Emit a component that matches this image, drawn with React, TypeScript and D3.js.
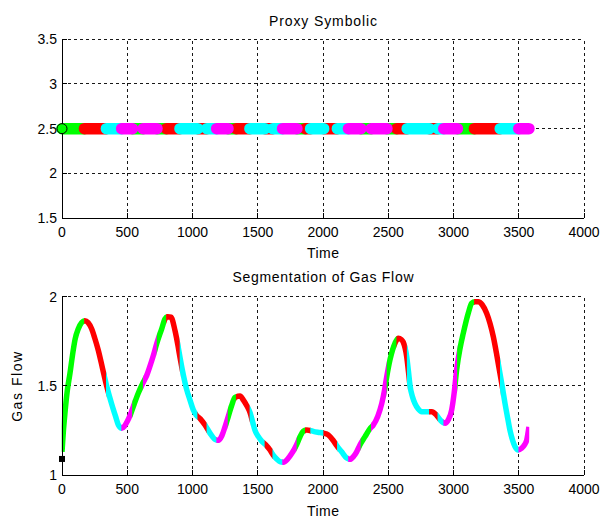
import React from 'react';
import * as d3 from 'd3';

// ---- data ----
const timeData = [0, 10, 23, 40, 61, 80, 100, 125, 151, 175, 200, 227, 250, 278, 310, 342, 380, 410, 432, 457, 480, 500, 525, 547, 585, 623, 650, 674, 700, 725, 764, 789, 810, 835, 866, 890, 904, 930, 955, 981, 1006, 1030, 1060, 1096, 1134, 1172, 1198, 1225, 1249, 1275, 1300, 1326, 1364, 1390, 1415, 1441, 1460, 1479, 1505, 1530, 1560, 1594, 1620, 1645, 1670, 1696, 1730, 1760, 1798, 1824, 1849, 1875, 1900, 1926, 1960, 2003, 2040, 2077, 2105, 2143, 2182, 2207, 2235, 2258, 2284, 2322, 2360, 2385, 2420, 2450, 2470, 2488, 2513, 2552, 2577, 2600, 2615, 2641, 2655, 2667, 2685, 2705, 2730, 2756, 2807, 2833, 2871, 2897, 2935, 2960, 2986, 3005, 3024, 3050, 3075, 3113, 3139, 3165, 3190, 3220, 3254, 3280, 3305, 3330, 3356, 3375, 3395, 3415, 3433, 3455, 3471, 3496, 3522, 3545, 3561, 3578];
const flowData = [1.13, 1.24, 1.35, 1.47, 1.57, 1.67, 1.76, 1.82, 1.855, 1.865, 1.855, 1.82, 1.77, 1.70, 1.60, 1.50, 1.40, 1.33, 1.28, 1.262, 1.275, 1.30, 1.34, 1.385, 1.46, 1.52, 1.56, 1.61, 1.67, 1.735, 1.82, 1.875, 1.888, 1.885, 1.81, 1.72, 1.66, 1.56, 1.48, 1.42, 1.365, 1.335, 1.315, 1.28, 1.235, 1.20, 1.195, 1.22, 1.27, 1.33, 1.39, 1.435, 1.443, 1.42, 1.39, 1.35, 1.30, 1.25, 1.215, 1.19, 1.17, 1.14, 1.11, 1.09, 1.075, 1.072, 1.09, 1.12, 1.17, 1.215, 1.245, 1.252, 1.25, 1.245, 1.24, 1.235, 1.225, 1.195, 1.165, 1.13, 1.095, 1.088, 1.105, 1.13, 1.17, 1.215, 1.26, 1.28, 1.33, 1.40, 1.47, 1.55, 1.645, 1.74, 1.767, 1.76, 1.745, 1.665, 1.58, 1.50, 1.44, 1.40, 1.37, 1.355, 1.355, 1.355, 1.335, 1.31, 1.29, 1.31, 1.365, 1.46, 1.59, 1.71, 1.795, 1.907, 1.963, 1.972, 1.972, 1.955, 1.907, 1.85, 1.776, 1.68, 1.57, 1.49, 1.40, 1.32, 1.25, 1.19, 1.16, 1.14, 1.15, 1.17, 1.196, 1.27];

const segBounds = [0, 172, 340, 457, 540, 622, 728, 800, 904, 1040, 1110, 1185, 1272, 1335, 1440, 1555, 1615, 1690, 1800, 1865, 1905, 2005, 2110, 2195, 2290, 2370, 2490, 2565, 2645, 2815, 2880, 2925, 3030, 3160, 3358, 3500, 3578];
const segColors = ['g', 'r', 'c', 'm', 'g', 'm', 'g', 'r', 'c', 'r', 'c', 'm', 'g', 'r', 'c', 'r', 'c', 'm', 'g', 'r', 'c', 'r', 'c', 'm', 'g', 'm', 'g', 'r', 'c', 'r', 'c', 'm', 'g', 'r', 'c', 'm'];

const xTicks = [0, 500, 1000, 1500, 2000, 2500, 3000, 3500, 4000];
const topYTicks = [1.5, 2, 2.5, 3, 3.5];
const botYTicks = [1, 1.5, 2];
const proxyLevel = 2.5;
const startFlow = 1.09;

const topTitle = 'Proxy Symbolic';
const botTitle = 'Segmentation of Gas Flow';
const xLabel = 'Time';
const botYLabel = 'Gas Flow';

const colorMap: Record<string, string> = { g: '#00ff00', r: '#ff0000', c: '#00ffff', m: '#ff00ff' };
const drawOrder = ['g', 'r', 'c', 'm'];

const FONT = "'Liberation Sans', Arial, Helvetica, sans-serif";

export default function App() {
  const W = 600, H = 519;
  const x = d3.scaleLinear().domain([0, 4000]).range([62, 584]);
  const yTop = d3.scaleLinear().domain([1.5, 3.5]).range([218, 39.3]);
  const yBot = d3.scaleLinear().domain([1, 2]).range([475, 296.7]);

  const pts = timeData.map((t, i) => [t, flowData[i]] as [number, number]);
  const line = d3.line<[number, number]>().x(d => x(d[0])).y(d => yBot(d[1])).curve(d3.curveMonotoneX);
  const fullPath = line(pts) || '';

  const segs = segColors.map((c, i) => ({ c, a: segBounds[i], b: segBounds[i + 1], i }));

  const axesFrame = (y: d3.ScaleLinear<number, number>, yTicks: number[], key: string) => {
    const [y0, y1] = y.range();
    return (
      <g key={key}>
        {xTicks.filter(t => t > 0).map(t => (
          <line key={'gx' + t} x1={x(t)} x2={x(t)} y1={y0} y2={y1} stroke="#000" strokeWidth={1} strokeDasharray="3,3" shapeRendering="crispEdges" opacity={0.9} />
        ))}
        {yTicks.slice(1).map(v => (
          <line key={'gy' + v} x1={x(0)} x2={x(4000)} y1={y(v)} y2={y(v)} stroke="#000" strokeWidth={1} strokeDasharray="3,3" shapeRendering="crispEdges" opacity={0.9} />
        ))}
      </g>
    );
  };

  const axesLines = (y: d3.ScaleLinear<number, number>, yTicks: number[], key: string) => {
    const [y0, y1] = y.range();
    return (
      <g key={key}>
        <line x1={x(0)} x2={x(0)} y1={y0} y2={y1} stroke="#000" strokeWidth={1} shapeRendering="crispEdges" />
        <line x1={x(0)} x2={x(4000)} y1={y0} y2={y0} stroke="#000" strokeWidth={1} shapeRendering="crispEdges" />
        {xTicks.map(t => (
          <line key={'tx' + t} x1={x(t)} x2={x(t)} y1={y0} y2={y0 - 5} stroke="#000" strokeWidth={1} shapeRendering="crispEdges" />
        ))}
        {yTicks.map(v => (
          <line key={'ty' + v} x1={x(0)} x2={x(0) + 5} y1={y(v)} y2={y(v)} stroke="#000" strokeWidth={1} shapeRendering="crispEdges" />
        ))}
        {xTicks.map(t => (
          <text key={'lx' + t} x={x(t)} y={y0 + 19} textAnchor="middle" fontSize={14} fontFamily={FONT} fill="#000">{String(t)}</text>
        ))}
        {yTicks.map(v => (
          <text key={'ly' + v} x={x(0) - 5} y={y(v) + 5} textAnchor="end" fontSize={14} fontFamily={FONT} fill="#000">{String(v)}</text>
        ))}
      </g>
    );
  };

  const cx = (x(0) + x(4000)) / 2;

  return (
    <svg width={W} height={H} viewBox={`0 0 ${W} ${H}`} style={{ position: 'absolute', left: 0, top: 0, background: '#fff' }}>
      <rect x={0} y={0} width={W} height={H} fill="#fff" />
      <defs>
        {segs.map(s => (
          <clipPath key={'cp' + s.i} id={'seg' + s.i}>
            <rect x={x(s.a) - 0.3} y={280} width={x(s.b) - x(s.a) + 0.6} height={210} />
          </clipPath>
        ))}
      </defs>

      {/* ---- top axes ---- */}
      {axesFrame(yTop, topYTicks, 'topgrid')}
      {drawOrder.map(c => (
        <g key={'top' + c}>
          {segs.filter(s => s.c === c).map(s => (
            <line key={'ts' + s.i} x1={x(s.a)} x2={x(s.b)} y1={yTop(proxyLevel)} y2={yTop(proxyLevel)} stroke={colorMap[c]} strokeWidth={11.5} strokeLinecap="round" />
          ))}
        </g>
      ))}
      {axesLines(yTop, topYTicks, 'topaxes')}
      <circle cx={x(0)} cy={yTop(proxyLevel)} r={5} fill="#00ff00" stroke="#000" strokeWidth={1} />
      <text x={cx} y={26} textAnchor="middle" fontSize={14} fontFamily={FONT} fill="#000" textLength={108} lengthAdjust="spacing">{topTitle}</text>
      <text x={cx} y={258} textAnchor="middle" fontSize={14} fontFamily={FONT} fill="#000" textLength={32} lengthAdjust="spacing">{xLabel}</text>

      {/* ---- bottom axes ---- */}
      {axesFrame(yBot, botYTicks, 'botgrid')}
      {segs.map(s => (
        <path key={'bs' + s.i} d={fullPath} fill="none" stroke={colorMap[s.c]} strokeWidth={5.5} strokeLinejoin="round" clipPath={`url(#seg${s.i})`} />
      ))}
      {axesLines(yBot, botYTicks, 'botaxes')}
      <rect x={x(0) - 3} y={yBot(startFlow) - 3} width={6} height={6} fill="#000" />
      <text x={cx} y={282} textAnchor="middle" fontSize={14} fontFamily={FONT} fill="#000" textLength={181} lengthAdjust="spacing">{botTitle}</text>
      <text x={cx} y={516} textAnchor="middle" fontSize={14} fontFamily={FONT} fill="#000" textLength={32} lengthAdjust="spacing">{xLabel}</text>
      <text transform={`translate(22, ${(yBot(1) + yBot(2)) / 2 + 1}) rotate(-90)`} textAnchor="middle" fontSize={14} fontFamily={FONT} fill="#000" textLength={70} lengthAdjust="spacing">{botYLabel}</text>
    </svg>
  );
}
